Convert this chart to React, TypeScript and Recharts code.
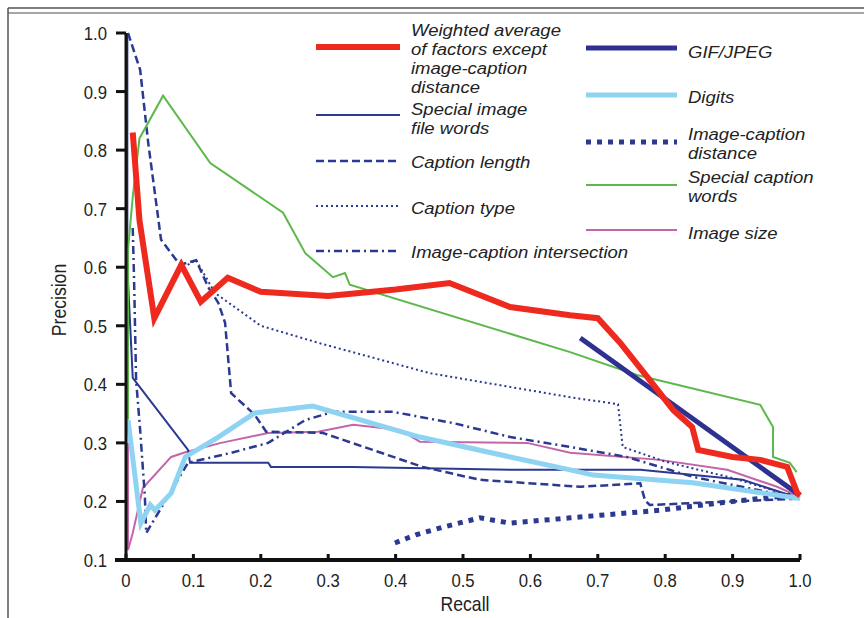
import React from 'react';
import { LineChart, Line, XAxis, YAxis } from 'recharts';

// [recall, precision] pairs
const weightedAvg: [number, number][] = [
  [0.01, 0.83], [0.02, 0.68], [0.042, 0.513], [0.082, 0.604], [0.111, 0.541], [0.151, 0.582],
  [0.2, 0.558], [0.3, 0.551], [0.4, 0.562], [0.48, 0.573], [0.57, 0.532], [0.659, 0.518],
  [0.7, 0.513], [0.733, 0.471], [0.773, 0.413], [0.812, 0.356], [0.84, 0.327], [0.849, 0.288],
  [0.9, 0.276], [0.941, 0.271], [0.981, 0.259], [0.996, 0.214], [1.0, 0.21],
];
const specialImageFile: [number, number][] = [
  [0.002, 1.0], [0.002, 0.6], [0.01, 0.411], [0.092, 0.288], [0.095, 0.266], [0.211, 0.266],
  [0.215, 0.259], [0.337, 0.259], [0.58, 0.254], [0.763, 0.254], [0.915, 0.237], [1.0, 0.205],
];
const captionLength: [number, number][] = [
  [0.003, 1.0], [0.021, 0.937], [0.033, 0.812], [0.052, 0.647], [0.08, 0.604], [0.104, 0.612],
  [0.122, 0.566], [0.137, 0.539], [0.147, 0.505], [0.156, 0.385], [0.191, 0.348], [0.208, 0.319],
  [0.292, 0.317], [0.44, 0.259], [0.525, 0.237], [0.674, 0.225], [0.763, 0.231], [0.77, 0.202],
  [0.777, 0.194], [0.9, 0.2], [1.0, 0.205],
];
const captionType: [number, number][] = [
  [0.085, 0.6], [0.104, 0.612], [0.132, 0.556], [0.2, 0.5], [0.285, 0.471], [0.451, 0.419],
  [0.659, 0.378], [0.73, 0.366], [0.737, 0.293], [0.8, 0.268], [0.9, 0.24], [1.0, 0.205],
];
const intersection: [number, number][] = [
  [0.01, 0.667], [0.012, 0.578], [0.015, 0.407], [0.021, 0.322], [0.028, 0.208], [0.03, 0.146],
  [0.062, 0.208], [0.092, 0.266], [0.156, 0.283], [0.211, 0.3], [0.266, 0.339], [0.307, 0.353],
  [0.396, 0.353], [0.485, 0.334], [0.57, 0.31], [0.659, 0.293], [0.743, 0.276], [0.841, 0.242],
  [1.0, 0.205],
];
const gifJpeg: [number, number][] = [[0.674, 0.479], [1.0, 0.21]];
const digits: [number, number][] = [
  [0.003, 0.339], [0.022, 0.163], [0.036, 0.194], [0.043, 0.185], [0.067, 0.214], [0.088, 0.276],
  [0.137, 0.31], [0.191, 0.351], [0.277, 0.363], [0.436, 0.31], [0.57, 0.276], [0.659, 0.254],
  [0.693, 0.245], [0.841, 0.232], [1.0, 0.205],
];
const captionDistance: [number, number][] = [
  [0.399, 0.129], [0.43, 0.143], [0.47, 0.156], [0.525, 0.172], [0.57, 0.163], [0.659, 0.172],
  [0.792, 0.185], [0.892, 0.199], [0.99, 0.211],
];
const specialCaption: [number, number][] = [
  [0.003, 0.34], [0.003, 0.63], [0.01, 0.72], [0.02, 0.82], [0.055, 0.893], [0.125, 0.778],
  [0.233, 0.693], [0.266, 0.624], [0.307, 0.583], [0.325, 0.59], [0.332, 0.57], [0.659, 0.455],
  [0.758, 0.416], [0.941, 0.365], [0.96, 0.327], [0.96, 0.276], [0.985, 0.266], [0.995, 0.25],
];
const imageSize: [number, number][] = [
  [0.003, 0.3], [0.003, 0.117], [0.01, 0.146], [0.025, 0.223], [0.067, 0.276], [0.088, 0.284],
  [0.141, 0.3], [0.211, 0.317], [0.285, 0.319], [0.337, 0.331], [0.407, 0.322], [0.436, 0.302],
  [0.595, 0.3], [0.659, 0.283], [0.792, 0.271], [0.892, 0.254], [0.966, 0.225], [0.995, 0.21],
];

const xTicks = [0, 0.1, 0.2, 0.3, 0.4, 0.5, 0.6, 0.7, 0.8, 0.9, 1.0];
const xTickLabels = ['0', '0.1', '0.2', '0.3', '0.4', '0.5', '0.6', '0.7', '0.8', '0.9', '1.0'];
const yTicks = [0.1, 0.2, 0.3, 0.4, 0.5, 0.6, 0.7, 0.8, 0.9, 1.0];

// no narrow font installed, so Liberation Sans is squeezed horizontally
const FONT = "'Liberation Sans', Arial, sans-serif";
const NAVY = '#2b3990';

const toRows = (pts: [number, number][]) => pts.map(([x, y]) => ({ x, y }));

interface SeriesDef {
  name: string[];
  pts: [number, number][];
  color: string;
  width: number;
  dash?: string;
}

// drawing order: first = bottom
const series: SeriesDef[] = [
  { name: ['Image size'], pts: imageSize, color: '#c266a8', width: 2 },
  { name: ['Special image', 'file words'], pts: specialImageFile, color: NAVY, width: 2 },
  { name: ['Caption type'], pts: captionType, color: NAVY, width: 2, dash: '2 3' },
  { name: ['Caption length'], pts: captionLength, color: NAVY, width: 2.5, dash: '8 4' },
  { name: ['Image-caption intersection'], pts: intersection, color: NAVY, width: 2.5, dash: '8 4 2 4' },
  { name: ['Image-caption', 'distance'], pts: captionDistance, color: NAVY, width: 5, dash: '5 6' },
  { name: ['Digits'], pts: digits, color: '#8fd3f2', width: 5 },
  { name: ['Special caption', 'words'], pts: specialCaption, color: '#5db84b', width: 2 },
  { name: ['GIF/JPEG'], pts: gifJpeg, color: '#2e3192', width: 5 },
  { name: ['Weighted average', 'of factors except', 'image-caption', 'distance'], pts: weightedAvg, color: '#ee2a1f', width: 6 },
];

const Narrow = ({ x, y, sx = 0.82, size = 18, anchor = 'start', italic = false, children }: any) => (
  <text
    transform={`translate(${x} ${y}) scale(${sx} 1)`}
    x={0}
    y={0}
    textAnchor={anchor}
    fontSize={size}
    fontStyle={italic ? 'italic' : 'normal'}
    fontFamily={FONT}
    fill="#222"
  >
    {children}
  </text>
);

const XTick = (props: any) => {
  const { x, y, payload } = props;
  const i = xTicks.indexOf(payload.value);
  return (
    <g>
      <line x1={x} x2={x} y1={y - 6} y2={y} stroke="#111" strokeWidth={3} />
      <Narrow x={x} y={y + 27} anchor="middle" sx={0.88} size={19}>
        {i >= 0 ? xTickLabels[i] : payload.value}
      </Narrow>
    </g>
  );
};

const YTick = (props: any) => {
  const { x, y, payload } = props;
  return (
    <g>
      <line x1={x - 10} x2={x} y1={y} y2={y} stroke="#111" strokeWidth={3} />
      <Narrow x={x - 19} y={y + 7} anchor="end" sx={0.88} size={19}>
        {payload.value.toFixed(1)}
      </Narrow>
    </g>
  );
};

// legend rows: series index, sample y, first text baseline
const legendLeft = [
  { s: 9, y: 47, t: 36 },
  { s: 1, y: 115, t: 115 },
  { s: 3, y: 161, t: 168 },
  { s: 2, y: 206, t: 214 },
  { s: 4, y: 251, t: 258 },
];
const legendRight = [
  { s: 8, y: 48, t: 58 },
  { s: 6, y: 95, t: 103 },
  { s: 5, y: 142, t: 140 },
  { s: 7, y: 185, t: 183 },
  { s: 0, y: 230, t: 239 },
];

const LegendItem = ({ item, x1, x2, tx }: { item: { s: number; y: number; t: number }; x1: number; x2: number; tx: number }) => {
  const d = series[item.s];
  return (
    <g>
      <line x1={x1} x2={x2} y1={item.y} y2={item.y} stroke={d.color} strokeWidth={d.width} strokeDasharray={d.dash} />
      <Narrow x={tx} y={item.t} italic size={17} sx={1.09}>
        {d.name.map((n, k) => (
          <tspan key={k} x={0} dy={k === 0 ? 0 : 19}>{n}</tspan>
        ))}
      </Narrow>
    </g>
  );
};

export default function App() {
  return (
    <div style={{ position: 'absolute', left: 0, top: 0, width: 864, height: 618, background: '#fff', overflow: 'hidden' }}>
      <LineChart width={864} height={618} margin={{ top: 33, right: 64, left: 66, bottom: 18 }}>
        <XAxis
          type="number"
          dataKey="x"
          domain={[0, 1]}
          ticks={xTicks}
          height={40}
          tickSize={0}
          tickMargin={0}
          tick={<XTick />}
          axisLine={{ stroke: '#111', strokeWidth: 4 }}
          tickLine={false}
        />
        <YAxis
          type="number"
          dataKey="y"
          domain={[0.1, 1.0]}
          ticks={yTicks}
          width={60}
          tickSize={0}
          tickMargin={0}
          tick={<YTick />}
          axisLine={{ stroke: '#111', strokeWidth: 3 }}
          tickLine={false}
        />
        {series.map((d) => (
          <Line
            key={d.name.join(' ')}
            data={toRows(d.pts)}
            dataKey="y"
            type="linear"
            stroke={d.color}
            strokeWidth={d.width}
            strokeDasharray={d.dash}
            dot={false}
            activeDot={false}
            isAnimationActive={false}
          />
        ))}
      </LineChart>
      <svg width={864} height={618} style={{ position: 'absolute', left: 0, top: 0, pointerEvents: 'none' }}>
        <line x1={8} x2={864} y1={8} y2={8} stroke="#555" strokeWidth={1.5} />
        <line x1={8} x2={864} y1={13} y2={13} stroke="#888" strokeWidth={1.5} />
        <line x1={8} x2={8} y1={8} y2={618} stroke="#555" strokeWidth={1.5} />
        <line x1={115} x2={126} y1={560} y2={560} stroke="#111" strokeWidth={4} />
        {legendLeft.map((it) => (
          <LegendItem key={it.s} item={it} x1={316} x2={400} tx={411} />
        ))}
        {legendRight.map((it) => (
          <LegendItem key={it.s} item={it} x1={586} x2={677} tx={688} />
        ))}
        <Narrow x={465} y={611} anchor="middle" size={20} sx={0.88}>Recall</Narrow>
        <g transform="translate(66,300) rotate(-90)">
          <Narrow x={0} y={0} anchor="middle" size={20} sx={0.88}>Precision</Narrow>
        </g>
      </svg>
    </div>
  );
}
